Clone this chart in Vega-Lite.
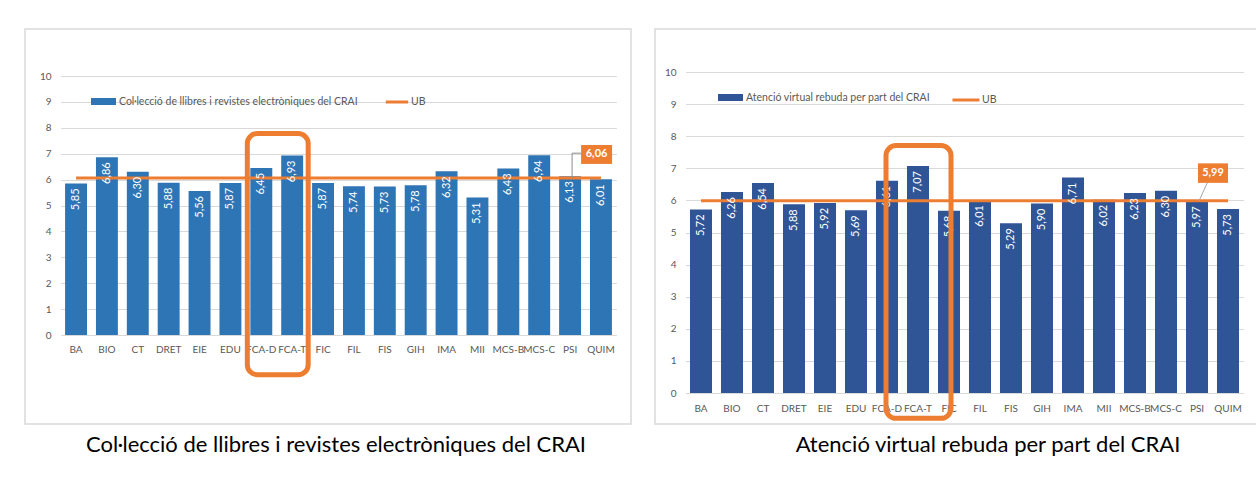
{
  "$schema": "https://vega.github.io/schema/vega-lite/v6.json",
  "padding": {"top": 28, "left": 24, "right": 0, "bottom": 0},
  "autosize": {"type": "pad"},
  "background": "white",
  "config": {
    "locale": {"number": {"decimal": ",", "thousands": ".", "grouping": [3], "currency": ["", " €"]}},
    "font": "Lato",
    "view": {"stroke": "#d9d9d9", "strokeWidth": 1.5},
    "concat": {"spacing": 22},
    "axis": {"labelColor": "#595959", "labelFontSize": 10, "labelFont": "Lato", "title": null, "ticks": false, "domain": false, "gridColor": "#d9d9d9", "gridWidth": 1}
  },
  "datasets": {
    "left": [
      {"cat": "BA", "v": 5.85, "ub": 6.06},
      {"cat": "BIO", "v": 6.86, "ub": 6.06},
      {"cat": "CT", "v": 6.30, "ub": 6.06},
      {"cat": "DRET", "v": 5.88, "ub": 6.06},
      {"cat": "EIE", "v": 5.56, "ub": 6.06},
      {"cat": "EDU", "v": 5.87, "ub": 6.06},
      {"cat": "FCA-D", "v": 6.45, "ub": 6.06},
      {"cat": "FCA-T", "v": 6.93, "ub": 6.06},
      {"cat": "FIC", "v": 5.87, "ub": 6.06},
      {"cat": "FIL", "v": 5.74, "ub": 6.06},
      {"cat": "FIS", "v": 5.73, "ub": 6.06},
      {"cat": "GIH", "v": 5.78, "ub": 6.06},
      {"cat": "IMA", "v": 6.32, "ub": 6.06},
      {"cat": "MII", "v": 5.31, "ub": 6.06},
      {"cat": "MCS-B", "v": 6.43, "ub": 6.06},
      {"cat": "MCS-C", "v": 6.94, "ub": 6.06},
      {"cat": "PSI", "v": 6.13, "ub": 6.06},
      {"cat": "QUIM", "v": 6.01, "ub": 6.06}
    ],
    "right": [
      {"cat": "BA", "v": 5.72, "ub": 5.99},
      {"cat": "BIO", "v": 6.26, "ub": 5.99},
      {"cat": "CT", "v": 6.54, "ub": 5.99},
      {"cat": "DRET", "v": 5.88, "ub": 5.99},
      {"cat": "EIE", "v": 5.92, "ub": 5.99},
      {"cat": "EDU", "v": 5.69, "ub": 5.99},
      {"cat": "FCA-D", "v": 6.61, "ub": 5.99},
      {"cat": "FCA-T", "v": 7.07, "ub": 5.99},
      {"cat": "FIC", "v": 5.68, "ub": 5.99},
      {"cat": "FIL", "v": 6.01, "ub": 5.99},
      {"cat": "FIS", "v": 5.29, "ub": 5.99},
      {"cat": "GIH", "v": 5.90, "ub": 5.99},
      {"cat": "IMA", "v": 6.71, "ub": 5.99},
      {"cat": "MII", "v": 6.02, "ub": 5.99},
      {"cat": "MCS-B", "v": 6.23, "ub": 5.99},
      {"cat": "MCS-C", "v": 6.30, "ub": 5.99},
      {"cat": "PSI", "v": 5.97, "ub": 5.99},
      {"cat": "QUIM", "v": 5.73, "ub": 5.99}
    ],
    "leftHighlight": [{"a": "FCA-D", "b": "FCA-T", "top": 7.78, "bottom": -1.53}],
    "rightHighlight": [{"a": "FCA-D", "b": "FIC", "top": 7.71, "bottom": -0.79}],
    "leftCallout": [{"cat": "PSI", "ub": 6.06, "y": 6.97, "lo": 6.06, "hi": 7.02}],
    "rightCallout": [{"cat": "PSI", "ub": 5.99, "y": 6.85, "lo": 5.98, "hi": 6.6}]
  },
  "resolve": {
    "scale": {"x": "independent", "y": "independent", "color": "independent", "stroke": "independent"},
    "legend": {"color": "independent", "stroke": "independent"}
  },
  "hconcat": [
    {
      "width": 606,
      "height": 395,
      "title": {"text": "Col·lecció de llibres i revistes electròniques del CRAI", "orient": "bottom", "anchor": "middle", "fontSize": 22, "fontWeight": "normal", "color": "#000000", "font": "Lato", "offset": 11, "dx": 8},
      "layer": [
        {
          "data": {"name": "left"},
          "mark": {"type": "bar"},
          "encoding": {
            "x": {"field": "cat", "type": "nominal", "sort": null,
              "scale": {"domain": ["BA","BIO","CT","DRET","EIE","EDU","FCA-D","FCA-T","FIC","FIL","FIS","GIH","IMA","MII","MCS-B","MCS-C","PSI","QUIM"], "range": [35.6, 591.4], "paddingInner": 0.29, "paddingOuter": 0.145},
              "axis": {"offset": -89, "labelAngle": 0, "labelPadding": 9, "labelOverlap": false, "labelBound": false, "grid": false}},
            "y": {"field": "v", "type": "quantitative",
              "scale": {"domain": [0, 10], "range": [306, 47], "nice": false, "zero": true},
              "axis": {"offset": -35, "values": [0,1,2,3,4,5,6,7,8,9,10], "tickCount": 11, "labelOverlap": false, "labelPadding": 9, "grid": true}},
            "color": {"datum": "Col·lecció de llibres i revistes electròniques del CRAI", "type": "nominal",
              "scale": {"range": ["#2E75B6"]},
              "legend": {"orient": "none", "legendX": 66, "legendY": 60, "title": null, "direction": "horizontal", "symbolType": "M-1,-0.28H1V0.28H-1Z", "symbolSize": 625, "symbolStrokeWidth": 0, "labelFontSize": 10.5, "labelColor": "#595959", "labelOffset": 3, "padding": 0, "labelLimit": 400}}
          }
        },
        {
          "data": {"name": "left"},
          "mark": {"type": "line", "strokeWidth": 3},
          "encoding": {
            "x": {"field": "cat", "type": "nominal", "sort": null},
            "y": {"field": "ub", "type": "quantitative"},
            "stroke": {"datum": "UB", "type": "nominal",
              "scale": {"range": ["#ED7D31"]},
              "legend": {"orient": "none", "legendX": 359, "legendY": 60, "title": null, "direction": "horizontal", "symbolType": "stroke", "symbolSize": 500, "symbolStrokeWidth": 3, "labelFontSize": 10.5, "labelColor": "#595959", "labelOffset": 1, "padding": 0}}
          }
        },
        {
          "data": {"name": "left"},
          "mark": {"type": "text", "angle": 270, "align": "right", "baseline": "middle", "dx": -5, "color": "white", "fontSize": 11},
          "encoding": {
            "x": {"field": "cat", "type": "nominal", "sort": null},
            "y": {"field": "v", "type": "quantitative"},
            "text": {"field": "v", "type": "quantitative", "format": ".2f"}
          }
        },
        {
          "data": {"name": "leftCallout"},
          "mark": {"type": "rule", "color": "#8c8c8c", "strokeWidth": 1, "xOffset": 2},
          "encoding": {
            "x": {"field": "cat", "type": "nominal"},
            "y": {"field": "lo", "type": "quantitative"},
            "y2": {"field": "hi"}
          }
        },
        {
          "data": {"name": "leftCallout"},
          "mark": {"type": "rule", "color": "#8c8c8c", "strokeWidth": 1, "xOffset": 2, "x2Offset": 11},
          "encoding": {
            "x": {"field": "cat", "type": "nominal"},
            "x2": {"field": "cat"},
            "y": {"field": "hi", "type": "quantitative"}
          }
        },
        {
          "data": {"name": "leftCallout"},
          "mark": {"type": "point", "shape": "M-1,-0.61H1V0.61H-1Z", "size": 961, "filled": true, "opacity": 1, "color": "#ED7D31", "xOffset": 26.5},
          "encoding": {
            "x": {"field": "cat", "type": "nominal"},
            "y": {"field": "y", "type": "quantitative"}
          }
        },
        {
          "data": {"name": "leftCallout"},
          "mark": {"type": "text", "color": "white", "fontWeight": "bold", "fontSize": 11, "xOffset": 26.5, "baseline": "middle"},
          "encoding": {
            "x": {"field": "cat", "type": "nominal"},
            "y": {"field": "y", "type": "quantitative"},
            "text": {"field": "ub", "type": "quantitative", "format": ".2f"}
          }
        },
        {
          "data": {"name": "leftHighlight"},
          "mark": {"type": "rect", "filled": false, "stroke": "#ED7D31", "strokeWidth": 5, "cornerRadius": 10, "clip": false, "xOffset": -14, "x2Offset": 16},
          "encoding": {
            "x": {"field": "a", "type": "nominal", "bandPosition": 0.5},
            "x2": {"field": "b"},
            "y": {"field": "top", "type": "quantitative"},
            "y2": {"field": "bottom"}
          }
        }
      ]
    },
    {
      "width": 602,
      "height": 395,
      "title": {"text": "Atenció virtual rebuda per part del CRAI", "orient": "bottom", "anchor": "middle", "fontSize": 22, "fontWeight": "normal", "color": "#000000", "font": "Lato", "offset": 11, "dx": 32},
      "layer": [
        {
          "data": {"name": "right"},
          "mark": {"type": "bar"},
          "encoding": {
            "x": {"field": "cat", "type": "nominal", "sort": null,
              "scale": {"domain": ["BA","BIO","CT","DRET","EIE","EDU","FCA-D","FCA-T","FIC","FIL","FIS","GIH","IMA","MII","MCS-B","MCS-C","PSI","QUIM"], "range": [30.5, 588.5], "paddingInner": 0.29, "paddingOuter": 0.145},
              "axis": {"offset": -31, "labelAngle": 0, "labelPadding": 10, "labelOverlap": false, "labelBound": false, "grid": false}},
            "y": {"field": "v", "type": "quantitative",
              "scale": {"domain": [0, 10], "range": [364, 43], "nice": false, "zero": true},
              "axis": {"offset": -30, "values": [0,1,2,3,4,5,6,7,8,9,10], "tickCount": 11, "labelOverlap": false, "labelPadding": 9, "grid": true}},
            "color": {"datum": "Atenció virtual rebuda per part del CRAI", "type": "nominal",
              "scale": {"range": ["#2F5597"]},
              "legend": {"orient": "none", "legendX": 63, "legendY": 56, "title": null, "direction": "horizontal", "symbolType": "M-1,-0.28H1V0.28H-1Z", "symbolSize": 625, "symbolStrokeWidth": 0, "labelFontSize": 10.5, "labelColor": "#595959", "labelOffset": 3, "padding": 0, "labelLimit": 400}}
          }
        },
        {
          "data": {"name": "right"},
          "mark": {"type": "line", "strokeWidth": 3},
          "encoding": {
            "x": {"field": "cat", "type": "nominal", "sort": null},
            "y": {"field": "ub", "type": "quantitative"},
            "stroke": {"datum": "UB", "type": "nominal",
              "scale": {"range": ["#ED7D31"]},
              "legend": {"orient": "none", "legendX": 296, "legendY": 56, "title": null, "direction": "horizontal", "symbolType": "stroke", "symbolSize": 729, "symbolStrokeWidth": 3, "labelFontSize": 10.5, "labelColor": "#595959", "labelOffset": 1, "padding": 0}}
          }
        },
        {
          "data": {"name": "right"},
          "mark": {"type": "text", "angle": 270, "align": "right", "baseline": "middle", "dx": -5, "color": "white", "fontSize": 11},
          "encoding": {
            "x": {"field": "cat", "type": "nominal", "sort": null},
            "y": {"field": "v", "type": "quantitative"},
            "text": {"field": "v", "type": "quantitative", "format": ".2f"}
          }
        },
        {
          "data": {"name": "rightCallout"},
          "mark": {"type": "rule", "color": "#a6a6a6", "strokeWidth": 1, "xOffset": 2, "x2Offset": 11},
          "encoding": {
            "x": {"field": "cat", "type": "nominal"},
            "x2": {"field": "cat"},
            "y": {"field": "lo", "type": "quantitative"},
            "y2": {"field": "hi"}
          }
        },
        {
          "data": {"name": "rightCallout"},
          "mark": {"type": "point", "shape": "M-1,-0.65H1V0.65H-1Z", "size": 900, "filled": true, "opacity": 1, "color": "#ED7D31", "xOffset": 16},
          "encoding": {
            "x": {"field": "cat", "type": "nominal"},
            "y": {"field": "y", "type": "quantitative"}
          }
        },
        {
          "data": {"name": "rightCallout"},
          "mark": {"type": "text", "color": "white", "fontWeight": "bold", "fontSize": 11, "xOffset": 16, "baseline": "middle"},
          "encoding": {
            "x": {"field": "cat", "type": "nominal"},
            "y": {"field": "y", "type": "quantitative"},
            "text": {"field": "ub", "type": "quantitative", "format": ".2f"}
          }
        },
        {
          "data": {"name": "rightHighlight"},
          "mark": {"type": "rect", "filled": false, "stroke": "#ED7D31", "strokeWidth": 5, "cornerRadius": 10, "clip": false, "xOffset": -1, "x2Offset": 2},
          "encoding": {
            "x": {"field": "a", "type": "nominal", "bandPosition": 0.5},
            "x2": {"field": "b"},
            "y": {"field": "top", "type": "quantitative"},
            "y2": {"field": "bottom"}
          }
        }
      ]
    }
  ]
}
